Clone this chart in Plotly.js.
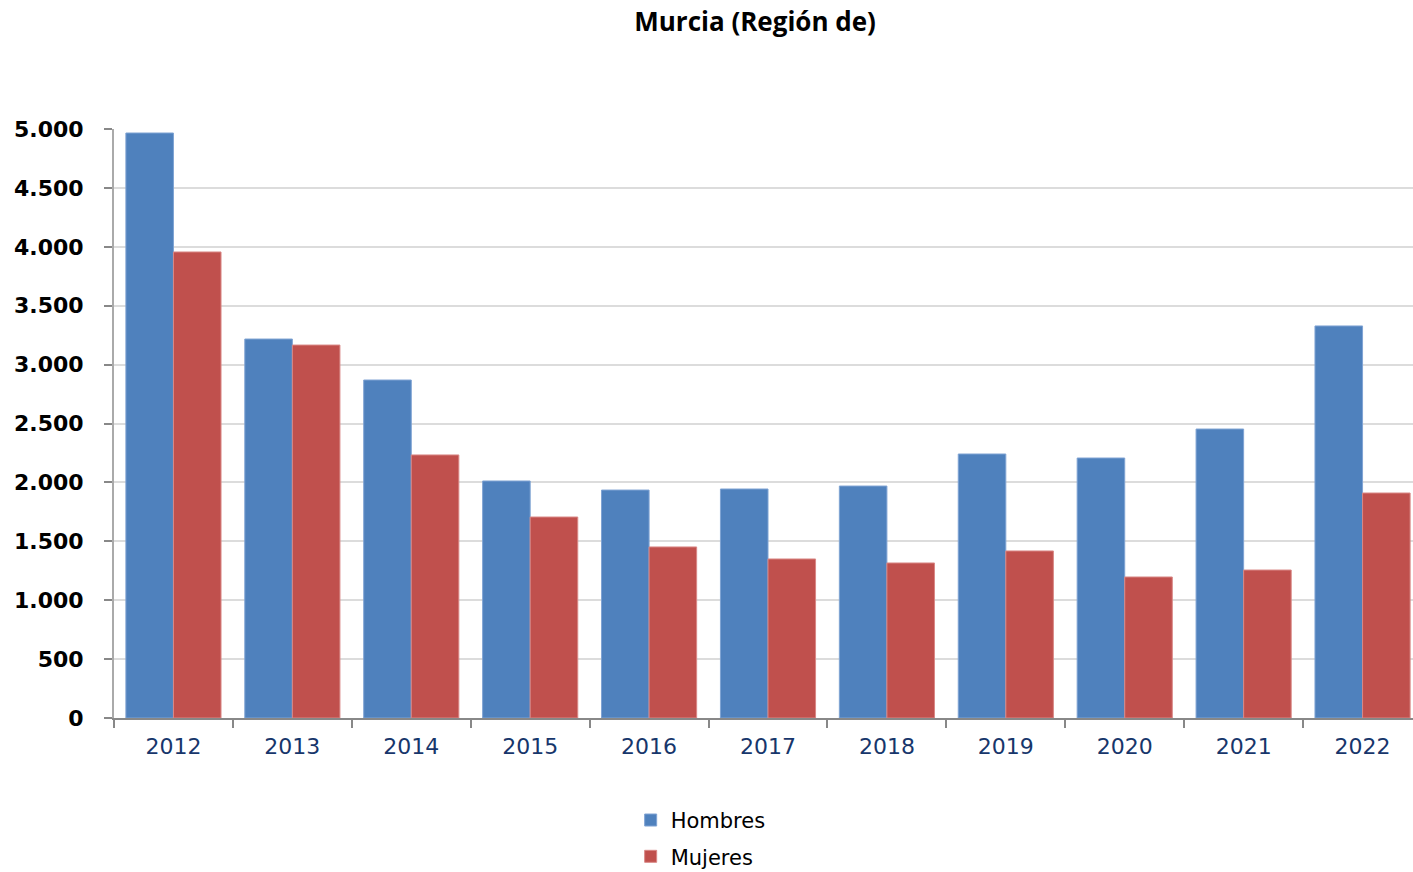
<!DOCTYPE html>
<html>
<head>
<meta charset="utf-8">
<script src="https://cdn.plot.ly/plotly-3.0.1.min.js"></script>
<style>html,body{margin:0;padding:0;background:#fff;overflow:hidden;width:1413px;height:872px;}#chart{width:1422px;height:872px;}</style>
</head>
<body>
<div id="chart"></div>
<script>
const years = ["2012","2013","2014","2015","2016","2017","2018","2019","2020","2021","2022"];
const hombres = [4966, 3217, 2869, 2012, 1935, 1944, 1969, 2241, 2207, 2453, 3328];
const mujeres = [3956, 3166, 2233, 1706, 1452, 1350, 1316, 1418, 1197, 1256, 1910];
const yTickVals = [0,500,1000,1500,2000,2500,3000,3500,4000,4500,5000];
const yTickText = ["0","500","1.000","1.500","2.000","2.500","3.000","3.500","4.000","4.500","5.000"];

const traces = [
  {type:'bar', name:'Hombres', legendgroup:'h', x:years, y:hombres, marker:{color:'#4F81BD', line:{color:'#7FA3D3', width:1}}},
  {type:'bar', name:'Mujeres', legendgroup:'m', x:years, y:mujeres, marker:{color:'#C0504D', line:{color:'#D98886', width:1}}}
];

const layout = {
  width:1422, height:872,
  margin:{l:114, r:0, t:129, b:154, autoexpand:false},
  paper_bgcolor:'#fff', plot_bgcolor:'#fff',
  title:{text:'<b>Murcia (Región de)</b>', x:0.531, xanchor:'center', y:0.975, yanchor:'middle',
    font:{family:'Open Sans, sans-serif', size:26, color:'#000'}},
  barmode:'group', bargap:0.2, bargroupgap:0,
  showlegend:true,
  legend:{orientation:'v', x:0.395, xanchor:'left', y:-0.139, yanchor:'top',
    font:{family:'DejaVu Sans, Verdana, sans-serif', size:21, color:'#000'}, tracegroupgap:6, itemwidth:30},
  xaxis:{type:'category', showline:true, linecolor:'#888', linewidth:2, automargin:false,
    ticks:'outside', tickson:'boundaries', ticklen:8, tickcolor:'#888', tickwidth:2,
    ticklabelstandoff:8,
    tickfont:{family:'DejaVu Sans, Verdana, sans-serif', size:22, color:'#17366B'},
    showgrid:false, zeroline:false},
  yaxis:{range:[0,5000], tickvals:yTickVals, ticktext:yTickText, automargin:false,
    showline:true, linecolor:'#aaa', linewidth:2,
    ticks:'outside', ticklen:8, tickcolor:'#888', tickwidth:2,
    ticklabelstandoff:16,
    showgrid:true, gridcolor:'#dcdcdc', gridwidth:2, zeroline:false,
    tickfont:{family:'DejaVu Sans, Verdana, sans-serif', size:22, color:'#000', weight:'bold'}}
};

Plotly.newPlot('chart', traces, layout, {displayModeBar:false, staticPlot:true});
</script>
</body>
</html>
